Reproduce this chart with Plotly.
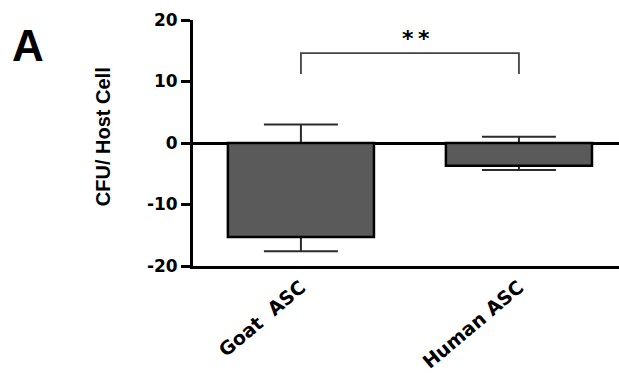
import plotly.graph_objects as go

# Group means and error extents (CFU per host cell)
groups = ["Goat\u00a0 ASC", "Human ASC"]
means = [-15.3, -3.7]
err_plus = [18.3, 4.7]
err_minus = [2.3, 0.7]

# Significance bracket between the two groups
sig_label = "*\u2009*"
sig_y_low = 11.2
sig_y_high = 14.6

y_ticks = [-20, -10, 0, 10, 20]
y_tick_text = ["-20", "-10", "0", "10", "20"]

bold_tick = dict(family="DejaVu Sans", size=17, color="black", weight="bold")

fig = go.Figure()

# Error bars first so the solid bars drawn afterwards hide the whisker inside them
fig.add_trace(go.Bar(
    x=[0, 1], y=means, width=0.67,
    marker=dict(color="rgba(0,0,0,0)", line=dict(width=0)),
    error_y=dict(type="data", symmetric=False, array=err_plus, arrayminus=err_minus,
                 color="#2b2b2b", thickness=2, width=37),
    hoverinfo="skip", showlegend=False,
))
fig.add_trace(go.Bar(
    x=[0, 1], y=means, width=0.67,
    marker=dict(color="#5a5a5a", line=dict(color="black", width=2.5)),
    showlegend=False,
))

# Bracket over the two bars
fig.add_trace(go.Scatter(
    x=[0, 0, 1, 1], y=[sig_y_low, sig_y_high, sig_y_high, sig_y_low],
    mode="lines", line=dict(color="#444444", width=1.8),
    hoverinfo="skip", showlegend=False,
))

fig.add_annotation(x=0.5, y=sig_y_high + 2.4, xref="x", yref="y", text=sig_label,
                   showarrow=False, xshift=6, xanchor="center",
                   font=dict(family="DejaVu Sans", size=22, color="black", weight="bold"))

# Panel letter
fig.add_annotation(x=-0.387, y=0.898, xref="paper", yref="paper", text="A",
                   showarrow=False, xanchor="center", yanchor="middle",
                   font=dict(family="Liberation Sans", size=44, color="black", weight="bold"))

# Y-axis title
fig.add_annotation(x=-0.211, y=0.524, xref="paper", yref="paper", text="CFU/ Host Cell",
                   textangle=-90, showarrow=False, xanchor="center", yanchor="middle",
                   font=dict(family="Liberation Sans", size=20, color="black", weight="bold"))

fig.update_layout(
    width=619, height=373,
    margin=dict(l=193, r=0, t=20, b=107),
    paper_bgcolor="white", plot_bgcolor="white",
    barmode="overlay",
    xaxis=dict(range=[-0.495, 1.459], tickmode="array", tickvals=[0, 1], ticktext=groups,
               tickangle=-40, ticks="", showgrid=False, zeroline=False,
               showline=True, linecolor="black", linewidth=3,
               tickfont=dict(family="DejaVu Sans", size=19, color="black", weight="bold")),
    yaxis=dict(range=[-20, 20], tickmode="array", tickvals=y_ticks, ticktext=y_tick_text,
               ticks="outside", ticklen=9, tickwidth=2.5, tickcolor="black",
               showgrid=False, zeroline=True, zerolinecolor="black", zerolinewidth=2.5,
               showline=True, linecolor="black", linewidth=3,
               tickfont=bold_tick),
)

fig.write_html("out.html")
